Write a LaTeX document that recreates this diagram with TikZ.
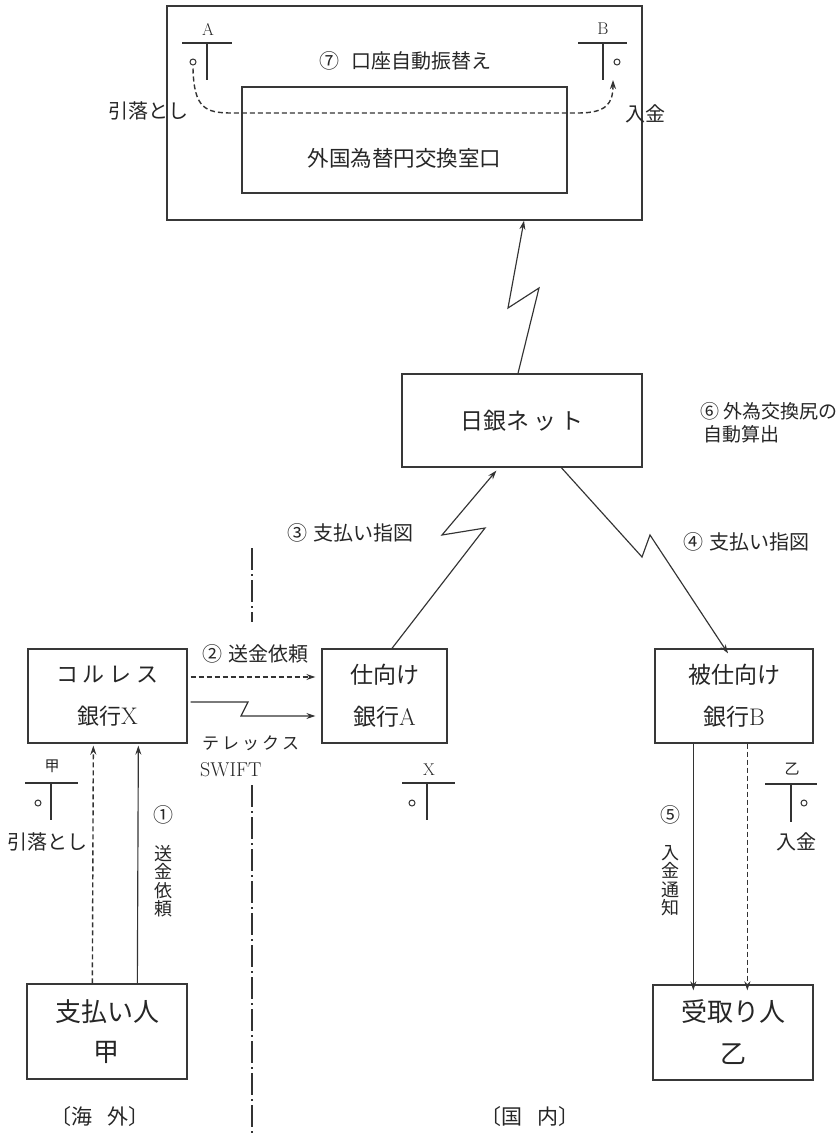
\documentclass[tikz,border=0pt]{standalone}
\usepackage{fontspec}
\newfontfamily\jp{Noto Sans CJK JP}
\usetikzlibrary{arrows.meta,calc}
\begin{document}
\begin{tikzpicture}[x=1pt,y=-1pt,
  box/.style={draw=black!78,line width=1.3pt,inner sep=0pt,text=black!85,align=center},
  lbl/.style={font=\jp\fontsize{20}{22}\selectfont,text=black!85,inner sep=0pt},
  small/.style={font=\rmfamily\fontsize{17}{17}\selectfont,text=black!85,inner sep=0pt},
  conn/.style={line width=1.15pt,draw=black!80},
  arr/.style={conn,-{Stealth[length=9pt,width=6pt,inset=3pt]}},
  dsh/.style={line width=1.4pt,dash pattern=on 5pt off 3pt},
  ddot/.style={conn,dash pattern=on 22pt off 4pt on 2pt off 4pt},
  hole/.style={circle,draw=black!80,line width=1pt,inner sep=0pt,minimum size=6pt},
  vtxt/.style={font=\jp\fontsize{18}{18.5}\selectfont,align=center,text=black!85,inner sep=0pt,anchor=north},
  ]
\useasboundingbox (0,0) rectangle (836,1133);
\fill[white] (0,0) rectangle (836,1133);

% ---------- top block ----------
\node[box,minimum width=475pt,minimum height=214pt] (outer) at (404.5,113) {};
\node[box,minimum width=325pt,minimum height=106pt] (inner) at (404.5,140) {};
\node[lbl,font=\jp\fontsize{21.5}{22}\selectfont] (innertxt) at (404.5,158) {外国為替円交換室口};
\node[lbl] (l7) at (405,61) {⑦\hspace{12pt}口座自動振替え};

% T-account A
\node[small] (tA) at (208,29) {A};
\draw[conn] (182,43) -- (232,43) (207,43) -- (207,80);
\node[hole] (cA) at (193,62) {};
% T-account B
\node[small] (tB) at (603,29) {B};
\draw[conn] (578,43) -- (627,43) (603,43) -- (603,80);
\node[hole] (cB) at (617,62) {};
\coordinate (tipB) at (613,80);

\draw[arr,dsh] ([yshift=-3pt]cA.south) .. controls (194,108) and (205,113) .. (232,113)
   -- (578,113) .. controls (606,113) and (613,104) .. (tipB);
\node[lbl] (hikiotoshiT) at (148,111) {引落とし};
\node[lbl] (nyukinT) at (645,114) {入金};

% ---------- Nichigin ----------
\node[box,minimum width=240pt,minimum height=93pt,font=\jp\fontsize{23}{26}\selectfont] (nichigin) at (522,420.5)
  {日銀ネ\hspace{4pt}ッ\hspace{4pt}ト};
\node[lbl,anchor=west,align=left,font=\jp\fontsize{19}{23}\selectfont] (l6) at (700,423)
  {⑥ 外為交換尻の\\\hspace{3pt}自動算出};

\draw[arr] ([xshift=-4pt]nichigin.north) -- (539,288) -- (508,308) -- ([xshift=119.5pt]outer.south);

% ---------- banks ----------
\node[box,minimum width=159pt,minimum height=94pt,font=\jp\fontsize{22}{42}\selectfont] (corres) at (107.5,696)
  {コ\hspace{5pt}ル\hspace{5pt}レ\hspace{5pt}ス\\銀行{\rmfamily\fontsize{24}{24}\selectfont X}};
\node[box,minimum width=125pt,minimum height=94pt,font=\jp\fontsize{23}{42}\selectfont] (shimuke) at (384.5,696)
  {仕向け\\銀行{\rmfamily\fontsize{24}{24}\selectfont A}};
\node[box,minimum width=158pt,minimum height=94pt,font=\jp\fontsize{23}{42}\selectfont] (hishimuke) at (734,696)
  {被仕向け\\銀行{\rmfamily\fontsize{24}{24}\selectfont B}};

% persons
\node[box,minimum width=160pt,minimum height=95pt,font=\jp\fontsize{26}{40}\selectfont] (payer) at (107,1031.5)
  {支払い人\\甲};
\node[box,minimum width=160pt,minimum height=95pt,font=\jp\fontsize{26}{42}\selectfont] (payee) at (733,1032.5)
  {受取り人\\乙};

% (2) dashed remittance request
\draw[arr,dsh] ([xshift=3pt,yshift=19pt]corres.east) -- ([xshift=-6pt,yshift=19pt]shimuke.west);
\node[lbl] (l2) at (255,654) {②\hspace{6pt}送金依頼};
% telex zigzag
\draw[arr] ([xshift=3pt,yshift=-6pt]corres.east) -- (248,702) -- (241,716) -- ([xshift=-6pt,yshift=-20pt]shimuke.west);
\node[lbl,anchor=west,font=\jp\fontsize{17}{20}\selectfont] (telex) at (202,743) {テ\hspace{3pt}レ\hspace{3pt}ッ\hspace{3pt}ク\hspace{3pt}ス};
\node[lbl,anchor=west,font=\rmfamily\fontsize{20}{20}\selectfont] (swift) at (200,770) {SWIFT};

% (3) zigzag to Nichigin
\draw[arr] ([xshift=7.5pt]shimuke.north) -- (485,528) -- (442,535) -- ([xshift=95pt,yshift=-3pt]nichigin.south west);
\node[lbl] (l3) at (350,533) {③\hspace{6pt}支払い指図};

% (4) zigzag to bank B
\draw[arr] ([xshift=160pt]nichigin.south west) -- (642,557) -- (650,535) -- ([xshift=-6pt,yshift=-5pt]hishimuke.north);
\node[lbl] (l4) at (746,542) {④\hspace{6pt}支払い指図};

% (1) payer -> corres
\draw[arr,dsh] ([xshift=66pt]payer.north west) -- ([xshift=66pt,yshift=-2pt]corres.south west);
\draw[arr] ([xshift=111pt]payer.north west) -- ([xshift=111pt,yshift=-2pt]corres.south west);
\node[lbl] (l1) at (163,815) {①};
\node[vtxt] (l1v) at (163,845) {送\\金\\依\\頼};

% T-account 甲
\node[lbl,font=\jp\fontsize{15}{15}\selectfont] (tKou) at (52,766) {甲};
\draw[conn] (25,783) -- (78,783) (51,783) -- (51,820);
\node[hole] (cKou) at (38,803) {};
\node[lbl] (hikiotoshi) at (48,842) {引落とし};

% T-account X
\node[small] (tX) at (429,770) {X};
\draw[conn] (402,783) -- (455,783) (427,783) -- (427,820);
\node[hole] (cX) at (412,803) {};

% (5) bank B -> payee
\draw[arr] ([xshift=39pt]hishimuke.south west) -- ([xshift=41pt,yshift=-6pt]payee.north west);
\draw[arr,dsh] ([xshift=93pt]hishimuke.south west) -- ([xshift=95pt,yshift=-6pt]payee.north west);
\node[lbl] (l5) at (670,815) {⑤};
\node[vtxt] (l5v) at (670,845) {入\\金\\通\\知};

% T-account 乙
\node[lbl,font=\jp\fontsize{15}{15}\selectfont] (tOtsu) at (792,769) {乙};
\draw[conn] (765,784) -- (817,784) (791,784) -- (791,822);
\node[hole] (cOtsu) at (804,803) {};
\node[lbl] (nyukin) at (796,842) {入金};

% divider
\coordinate (d1) at (252,548);
\coordinate (d2) at (252,622);
\coordinate (d3) at (252,785);
\coordinate (d4) at (252,1133);
\draw[ddot] (d1) -- (d2);
\draw[ddot] (d3) -- (d4);

\node[lbl,font=\jp\fontsize{21}{22}\selectfont] (kaigai) at (100,1117) {〔海\hspace{16pt}外〕};
\node[lbl,font=\jp\fontsize{21}{22}\selectfont] (kokunai) at (530,1117) {〔国\hspace{16pt}内〕};
\end{tikzpicture}
\end{document}
